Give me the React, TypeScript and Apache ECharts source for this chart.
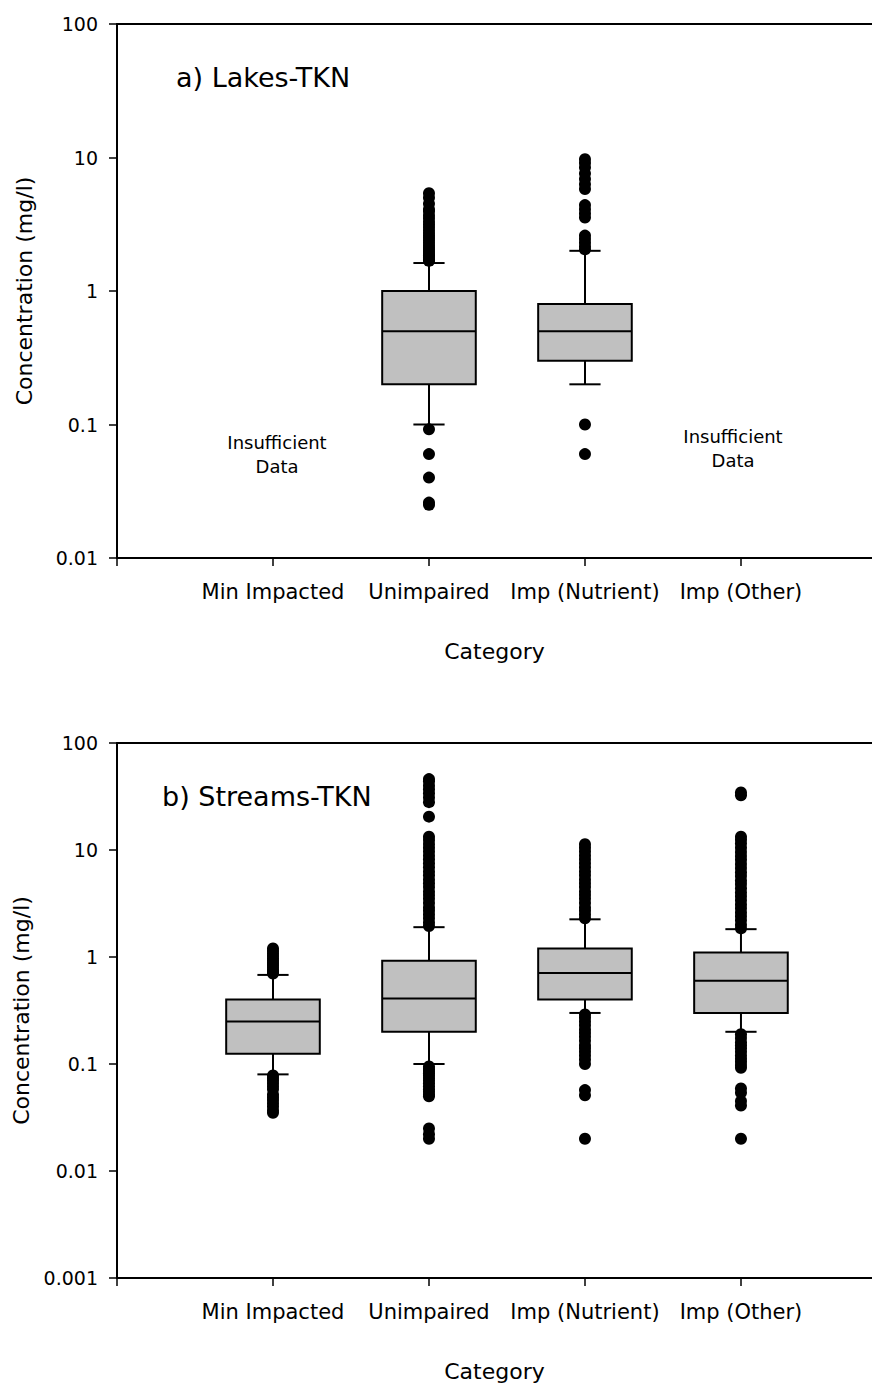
import React, { useEffect, useRef } from "react";
import * as echarts from "echarts";

// Category positions on the x axis are 1..4
const categories = ["Min Impacted", "Unimpaired", "Imp (Nutrient)", "Imp (Other)"];

// Box statistics: [position, lower whisker, Q1, median, Q3, upper whisker]
const lakesStats = [
  [2, 0.1, 0.2, 0.5, 1.0, 1.62],
  [3, 0.2, 0.3, 0.5, 0.8, 2.0],
];
const streamsStats = [
  [1, 0.08, 0.125, 0.25, 0.4, 0.68],
  [2, 0.1, 0.2, 0.41, 0.92, 1.9],
  [3, 0.3, 0.4, 0.71, 1.2, 2.25],
  [4, 0.2, 0.3, 0.6, 1.1, 1.82],
];

// Outliers, lakes
const lakesUnimpairedOut = [
  1.68, 1.72, 1.78, 1.84, 1.9, 1.97, 2.05, 2.12, 2.2, 2.3, 2.4, 2.5, 2.6, 2.72, 2.85, 3.0,
  3.15, 3.3, 3.5, 3.7, 3.95, 4.1, 4.5, 5.0, 5.4, 0.092, 0.06, 0.04, 0.026, 0.025,
];
const lakesNutrientOut = [
  2.05, 2.15, 2.3, 2.45, 2.6, 3.55, 3.8, 4.1, 4.4, 5.8, 6.3, 6.9, 7.6, 8.4, 9.1, 9.7, 0.1, 0.06,
];

// Outliers, streams
const streamsMinOut = [
  0.7, 0.73, 0.76, 0.8, 0.84, 0.88, 0.92, 0.97, 1.02, 1.08, 1.14, 1.2,
  0.078, 0.074, 0.07, 0.066, 0.062, 0.058, 0.052, 0.049, 0.046, 0.043, 0.04, 0.037, 0.035,
];
const streamsUnimpairedOut = [
  1.95, 2.1, 2.3, 2.5, 2.7, 2.9, 3.2, 3.5, 3.8, 4.1, 4.5, 4.9, 5.3, 5.8, 6.3, 6.9, 7.5, 8.2,
  8.9, 9.7, 10.5, 11.4, 12.4, 13.3, 20.5, 28, 31, 34, 37, 40, 44, 46,
  0.095, 0.09, 0.086, 0.082, 0.078, 0.074, 0.07, 0.066, 0.062, 0.058, 0.055, 0.052, 0.05,
  0.025, 0.022, 0.02,
];
const streamsNutrientOut = [
  2.3, 2.5, 2.7, 2.9, 3.2, 3.5, 3.8, 4.1, 4.5, 4.9, 5.3, 5.8, 6.3, 6.9, 7.5, 8.2, 8.9, 9.7,
  10.5, 11.3,
  0.29, 0.27, 0.25, 0.23, 0.21, 0.195, 0.18, 0.165, 0.15, 0.14, 0.13, 0.12, 0.11, 0.1,
  0.057, 0.051, 0.02,
];
const streamsOtherOut = [
  1.85, 2.0, 2.2, 2.4, 2.6, 2.85, 3.1, 3.4, 3.7, 4.0, 4.4, 4.8, 5.2, 5.7, 6.2, 6.8, 7.4, 8.1,
  8.8, 9.6, 10.5, 11.5, 12.5, 13.3, 32.5, 34.5,
  0.19, 0.175, 0.16, 0.15, 0.14, 0.13, 0.12, 0.112, 0.105, 0.098, 0.092,
  0.059, 0.054, 0.045, 0.041, 0.02,
];

// Y tick values and labels
const lakesTickValues = [0.01, 0.1, 1, 10, 100];
const lakesTickLabels = ["0.01", "0.1", "1", "10", "100"];
const streamsTickValues = [0.001, 0.01, 0.1, 1, 10, 100];
const streamsTickLabels = ["0.001", "0.01", "0.1", "1", "10", "100"];

const FONT = "DejaVu Sans";
const X_MAX = 4.84;

const toPoints = (pos: number, vals: number[]) => vals.map((v) => [pos, v]);

const renderBox = (params: any, api: any) => {
  const x = api.value(0);
  const lo = api.coord([x, api.value(1)]);
  const q1 = api.coord([x, api.value(2)]);
  const med = api.coord([x, api.value(3)]);
  const q3 = api.coord([x, api.value(4)]);
  const hi = api.coord([x, api.value(5)]);
  const unit = api.coord([x + 1, 1])[0] - api.coord([x, 1])[0];
  const bw = unit * 0.3;
  const cw = unit * 0.1;
  const cx = lo[0];
  const ls = { stroke: "#000", lineWidth: 2 };
  return {
    type: "group",
    children: [
      { type: "line", shape: { x1: cx, y1: hi[1], x2: cx, y2: q3[1] }, style: ls },
      { type: "line", shape: { x1: cx, y1: q1[1], x2: cx, y2: lo[1] }, style: ls },
      { type: "line", shape: { x1: cx - cw, y1: hi[1], x2: cx + cw, y2: hi[1] }, style: ls },
      { type: "line", shape: { x1: cx - cw, y1: lo[1], x2: cx + cw, y2: lo[1] }, style: ls },
      {
        type: "rect",
        shape: { x: cx - bw, y: q3[1], width: bw * 2, height: q1[1] - q3[1] },
        style: { fill: "#c0c0c0", stroke: "#000", lineWidth: 2 },
      },
      { type: "line", shape: { x1: cx - bw, y1: med[1], x2: cx + bw, y2: med[1] }, style: ls },
    ],
  };
};

const tickFormatter = (values: number[], labels: string[]) => (v: number) => {
  const i = values.findIndex((t) => Math.abs(Math.log10(t) - Math.log10(v)) < 1e-6);
  return i >= 0 ? labels[i] : "";
};

const bottomXAxis = (gridIndex: number) => ({
  type: "value",
  gridIndex,
  position: "bottom",
  min: 0,
  max: X_MAX,
  interval: 1,
  name: "Category",
  nameLocation: "middle",
  nameGap: 82,
  nameTextStyle: { fontFamily: FONT, fontSize: 22, color: "#000" },
  axisLine: { show: true, onZero: false, lineStyle: { color: "#000", width: 2 } },
  axisTick: { show: true, length: 8, customValues: [0, 1, 2, 3, 4], lineStyle: { color: "#000", width: 1.5 } },
  axisLabel: {
    customValues: [1, 2, 3, 4],
    formatter: (v: number) => categories[Math.round(v) - 1] ?? "",
    fontFamily: FONT,
    fontSize: 21,
    color: "#000",
    margin: 23,
  },
  splitLine: { show: false },
});

const topXAxis = (gridIndex: number) => ({
  type: "value",
  gridIndex,
  position: "top",
  min: 0,
  max: X_MAX,
  axisLine: { show: true, onZero: false, lineStyle: { color: "#000", width: 2 } },
  axisTick: { show: false },
  axisLabel: { show: false },
  splitLine: { show: false },
});

const logYAxis = (gridIndex: number, values: number[], labels: string[]) => ({
  type: "log",
  logBase: 10,
  gridIndex,
  min: values[0],
  max: values[values.length - 1],
  name: "Concentration (mg/l)",
  nameLocation: "middle",
  nameGap: 82,
  nameTextStyle: { fontFamily: FONT, fontSize: 22, color: "#000" },
  axisLine: { show: true, onZero: false, lineStyle: { color: "#000", width: 2 } },
  axisTick: { show: true, length: 8, customValues: values, lineStyle: { color: "#000", width: 1.5 } },
  axisLabel: {
    customValues: values,
    formatter: tickFormatter(values, labels),
    fontFamily: FONT,
    fontSize: 19,
    color: "#000",
    margin: 19,
  },
  splitLine: { show: false },
  minorTick: { show: false },
});

const scatterSeries = (axisIdx: number, yIdx: number, data: number[][]) => ({
  type: "scatter",
  xAxisIndex: axisIdx,
  yAxisIndex: yIdx,
  symbol: "circle",
  symbolSize: 12,
  itemStyle: { color: "#000", opacity: 1 },
  data,
  z: 3,
});

const insufficientText = (x: number, y: number) => ({
  type: "text",
  x,
  y,
  style: {
    text: "Insufficient\nData",
    fontFamily: FONT,
    fontSize: 18,
    lineHeight: 24,
    align: "center",
    verticalAlign: "top",
    fill: "#000",
  },
});

export default function App() {
  const ref = useRef<HTMLDivElement>(null);

  useEffect(() => {
    if (!ref.current) return;
    const chart = echarts.init(ref.current, undefined, { renderer: "svg" });
    chart.setOption({
      animation: false,
      backgroundColor: "#fff",
      grid: [
        { left: 117, top: 24, width: 755, height: 534 },
        { left: 117, top: 743, width: 755, height: 535 },
      ],
      xAxis: [bottomXAxis(0), topXAxis(0), bottomXAxis(1), topXAxis(1)],
      yAxis: [
        logYAxis(0, lakesTickValues, lakesTickLabels),
        logYAxis(1, streamsTickValues, streamsTickLabels),
      ],
      series: [
        {
          type: "custom",
          xAxisIndex: 0,
          yAxisIndex: 0,
          renderItem: renderBox,
          encode: { x: 0, y: [1, 2, 3, 4, 5] },
          data: lakesStats,
          z: 2,
        },
        scatterSeries(0, 0, [...toPoints(2, lakesUnimpairedOut), ...toPoints(3, lakesNutrientOut)]),
        {
          type: "custom",
          xAxisIndex: 2,
          yAxisIndex: 1,
          renderItem: renderBox,
          encode: { x: 0, y: [1, 2, 3, 4, 5] },
          data: streamsStats,
          z: 2,
        },
        scatterSeries(2, 1, [
          ...toPoints(1, streamsMinOut),
          ...toPoints(2, streamsUnimpairedOut),
          ...toPoints(3, streamsNutrientOut),
          ...toPoints(4, streamsOtherOut),
        ]),
      ],
      graphic: [
        {
          type: "text",
          left: 176,
          top: 64,
          style: { text: "a) Lakes-TKN", fontFamily: FONT, fontSize: 27, fill: "#000" },
        },
        {
          type: "text",
          left: 162,
          top: 783,
          style: { text: "b) Streams-TKN", fontFamily: FONT, fontSize: 27, fill: "#000" },
        },
        insufficientText(277, 430),
        insufficientText(733, 424),
      ],
    });
    return () => chart.dispose();
  }, []);

  return (
    <div
      ref={ref}
      style={{ position: "absolute", left: 0, top: 0, width: 872, height: 1387, background: "#fff" }}
    />
  );
}
